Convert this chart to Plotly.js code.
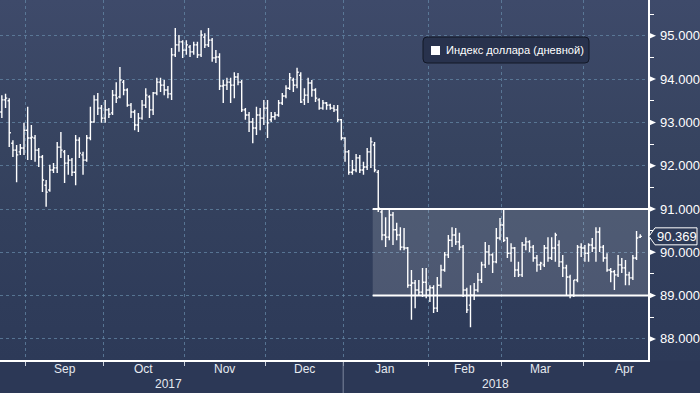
<!DOCTYPE html>
<html><head><meta charset="utf-8">
<script src="https://cdn.plot.ly/plotly-3.0.1.min.js"></script>
<style>
html,body{margin:0;padding:0;background:#2c3956;}
#wrap{position:relative;width:700px;height:393px;background:linear-gradient(to bottom,#3e4a6a 0px,#36435f 150px,#2f3c5a 300px,#2d3a58 360px,#2c3856 361px,#2c3856 393px);}
#chart{width:700px;height:393px;}
</style></head><body><div id="wrap"><div id="chart"></div></div>
<script>
// Daily US Dollar Index bars, one per weekday starting 2017-08-23
const firstDay = '2017-08-23';
const open = [
 93.24,93.52,93.50,92.52,92.36,92.32,92.41,
 92.82,92.64,92.64,92.36,92.20,91.55,91.44,91.90,91.95,92.43,92.32,92.06,92.13,91.85,92.59,92.25,92.13,92.64,93.01,93.52,93.33,
 93.10,93.29,93.22,93.63,93.59,93.93,93.75,93.40,93.24,92.94,93.10,93.40,93.59,93.29,93.68,93.93,93.86,93.75,93.66,94.56,94.79,94.86,
 94.67,94.74,94.63,94.79,94.56,94.97,94.79,94.90,94.49,94.51,93.84,93.86,93.93,93.86,94.05,93.93,93.29,93.17,93.01,92.87,93.17,93.10,
 93.33,93.06,93.13,93.17,93.45,93.61,93.79,93.98,93.86,94.09,93.52,93.63,93.91,93.75,93.52,93.33,93.45,93.40,93.33,93.29,93.06,
 92.64,92.32,91.85,91.90,92.18,91.90,91.97,92.32,92.48,91.85,90.93,90.40,90.35,90.86,90.52,90.40,90.12,90.10,89.24,89.29,89.13,89.08,89.31,
 89.13,89.18,88.71,89.24,89.59,89.94,90.28,90.40,90.24,90.12,89.13,88.78,89.01,89.13,89.36,89.71,90.01,89.94,89.78,90.33,
 90.63,90.33,89.98,90.10,89.59,89.48,90.17,90.24,90.12,89.87,89.71,89.71,90.10,89.87,90.10,90.17,89.78,89.64,89.43,89.01,89.36,90.12,
 90.10,89.98,90.17,90.10,90.47,90.12,89.87,89.59,89.55,89.48,89.71,89.64,89.48,89.41,89.87,90.35];
const high = [
 93.63,93.66,93.56,92.59,92.48,92.50,92.99,
 93.36,92.94,92.71,92.41,92.25,91.67,92.02,92.06,92.55,92.78,92.36,92.25,92.18,92.71,92.66,92.32,92.71,93.36,93.63,93.68,93.40,
 93.52,93.33,93.75,93.93,94.28,93.98,93.79,93.45,93.29,93.22,93.52,93.79,93.63,93.70,94.03,94.03,93.98,93.84,94.72,95.18,95.02,94.90,
 94.90,94.79,94.86,94.86,95.13,95.06,95.18,94.95,94.67,94.60,93.98,94.03,94.03,94.16,94.14,93.98,93.33,93.24,93.10,93.36,93.33,93.52,
 93.52,93.24,93.24,93.52,93.68,93.86,94.14,94.03,94.26,94.16,93.79,94.03,93.98,93.79,93.56,93.52,93.47,93.43,93.40,93.40,93.08,
 92.66,92.36,92.13,92.27,92.25,92.09,92.41,92.66,92.55,91.90,90.98,90.81,91.02,90.93,90.68,90.58,90.56,90.12,89.59,89.36,89.36,89.64,89.64,
 89.24,89.24,89.43,89.71,90.01,90.40,90.58,90.56,90.45,90.17,89.18,89.24,89.29,89.52,89.78,90.24,90.17,89.98,90.56,90.79,
 90.98,90.35,90.21,90.12,89.78,90.24,90.35,90.28,90.17,89.94,89.78,90.17,90.35,90.35,90.45,90.28,89.94,89.71,89.48,89.36,90.17,90.21,
 90.17,90.21,90.33,90.58,90.58,90.17,89.98,89.64,89.59,89.94,89.87,89.82,89.55,89.94,90.49,90.42];
const low = [
 93.10,93.33,92.43,92.20,91.62,92.25,92.25,
 92.13,92.13,92.09,91.97,91.39,91.05,91.40,91.83,91.83,92.18,91.60,91.79,91.76,91.55,92.18,91.79,92.09,92.59,92.99,93.17,92.99,
 92.99,93.10,93.17,93.45,93.56,93.63,93.36,93.10,92.82,92.78,93.06,93.33,93.10,93.17,93.63,93.70,93.63,93.56,93.52,94.51,94.63,94.49,
 94.56,94.51,94.56,94.49,94.51,94.72,94.74,94.40,94.37,93.75,93.45,93.75,93.45,93.56,93.86,93.24,93.06,92.78,92.52,92.71,92.82,92.94,
 92.64,93.01,93.06,93.13,93.40,93.56,93.75,93.70,93.79,93.45,93.40,93.45,93.59,93.47,93.29,93.29,93.29,93.29,93.24,93.01,92.59,
 92.09,91.79,91.79,91.85,91.83,91.79,91.90,91.95,91.85,90.93,90.28,90.12,90.28,90.17,90.28,90.05,90.05,89.18,88.44,88.71,89.01,88.97,88.94,
 88.85,88.60,88.62,89.18,89.55,89.87,90.12,90.17,90.05,88.97,88.60,88.27,88.90,89.08,89.29,89.64,89.71,89.52,89.75,90.28,
 90.24,89.87,89.78,89.43,89.43,89.43,90.05,90.01,89.78,89.55,89.59,89.66,89.78,89.82,89.78,89.66,89.43,89.01,88.94,88.97,89.31,89.89,
 89.78,89.78,90.01,89.78,90.01,89.78,89.55,89.31,89.13,89.43,89.52,89.24,89.24,89.36,89.82,90.33];
const close = [
 93.52,93.56,92.76,92.36,92.25,92.41,92.82,
 92.64,92.66,92.36,92.20,91.67,91.39,91.90,91.95,92.43,92.36,92.06,92.13,91.85,92.59,92.29,92.13,92.64,93.01,93.52,93.33,93.10,
 93.29,93.19,93.63,93.56,93.98,93.75,93.40,93.24,92.94,93.10,93.40,93.63,93.29,93.68,93.93,93.86,93.75,93.66,94.56,94.79,94.86,94.67,
 94.79,94.63,94.79,94.56,95.02,94.79,94.90,94.49,94.51,93.84,93.86,93.93,93.86,94.05,93.93,93.29,93.17,93.01,92.87,93.17,93.10,93.33,
 92.99,93.13,93.17,93.45,93.61,93.79,94.03,93.86,94.16,93.47,93.63,93.91,93.75,93.56,93.33,93.45,93.40,93.33,93.29,93.06,92.64,
 92.32,91.85,91.90,92.18,91.90,91.97,92.32,92.55,91.90,91.02,90.40,90.35,90.86,90.52,90.40,90.12,90.10,89.24,89.29,89.13,89.08,89.31,89.13,
 89.18,88.71,89.24,89.59,89.94,90.28,90.40,90.24,90.12,89.13,88.67,89.01,89.13,89.36,89.71,90.01,89.94,89.78,90.33,90.63,
 90.28,89.98,90.10,89.59,89.48,90.17,90.24,90.12,89.87,89.71,89.75,90.10,89.87,90.10,90.40,89.78,89.64,89.43,89.01,89.36,90.12,90.10,
 89.98,90.17,90.10,90.47,90.12,89.87,89.59,89.55,89.48,89.71,89.64,89.48,89.41,89.87,90.33,90.369];

const monthStarts = ['2017-09-01','2017-10-02','2017-11-01','2017-12-01','2018-01-01','2018-02-01','2018-03-01','2018-04-02'];
const monthLabels = ['Sep','Oct','Nov','Dec','Jan','Feb','Mar','Apr'];
const monthLabelAt = ['2017-09-15 12:00','2017-10-17 00:00','2017-11-15 18:00','2017-12-15 10:00','2018-01-16 06:00','2018-02-15 00:00','2018-03-15 14:00','2018-04-17 06:00'];
const yearLabels = ['2017','2018'];
const yearLabelAt = ['2017-10-25 14:00','2018-02-27 06:00'];
const yearBreak = '2018-01-01';
const yTicks = [88,89,90,91,92,93,94,95];
const channel = {x0:'2018-01-11', lo:89, hi:91};
const seriesName = 'Индекс доллара (дневной)';
const xRange = ['2017-08-23 00:00','2018-04-25 14:30'];
const yRange = [87.513, 95.827];

// weekday calendar for the bars
const dates = [];
{
  let t = Date.UTC(2017,7,23,12);
  while (dates.length < close.length) {
    const d = new Date(t); const wd = d.getUTCDay();
    if (wd !== 0 && wd !== 6) dates.push(d.toISOString().slice(0,10) + ' 12:00');
    t += 86400000;
  }
}

const font = 'Liberation Sans, Arial, sans-serif';
const gridCol = 'rgba(100,135,165,0.75)';

const trace = {
  type:'ohlc', x:dates, open:open, high:high, low:low, close:close,
  increasing:{line:{color:'#ffffff', width:1.4}},
  decreasing:{line:{color:'#ffffff', width:1.4}},
  tickwidth:0.45, hoverinfo:'skip', showlegend:false
};

const last = close[close.length-1];
const shapes = [
  {type:'rect', xref:'x', yref:'y', x0:channel.x0, x1:xRange[1], y0:channel.lo, y1:channel.hi,
   fillcolor:'rgba(255,255,255,0.14)', line:{width:0}, layer:'between'},
  {type:'line', xref:'x', yref:'y', x0:channel.x0, x1:xRange[1], y0:channel.hi, y1:channel.hi, line:{color:'#ffffff', width:2}},
  {type:'line', xref:'x', yref:'y', x0:channel.x0, x1:xRange[1], y0:channel.lo, y1:channel.lo, line:{color:'#ffffff', width:2}},
  {type:'line', xref:'x', yref:'paper', x0:yearBreak, x1:yearBreak, y0:-0.006, y1:-0.095, line:{color:'#7d879e', width:1}},
  // legend box
  {type:'path', xref:'paper', xsizemode:'pixel', xanchor:0, yref:'paper', ysizemode:'pixel', yanchor:1,
   path:'M427,-37 L585,-37 Q589,-37 589,-41 L589,-59 Q589,-63 585,-63 L427,-63 Q423,-63 423,-59 L423,-41 Q423,-37 427,-37 Z',
   fillcolor:'#28324d', line:{color:'#121827', width:1}},
  {type:'rect', xref:'paper', xsizemode:'pixel', xanchor:0, yref:'paper', ysizemode:'pixel', yanchor:1,
   x0:431, x1:440, y0:-46, y1:-55, fillcolor:'#ffffff', line:{width:0}},
  // last price tag
  {type:'path', xref:'paper', xsizemode:'pixel', xanchor:1, yref:'y', ysizemode:'pixel', yanchor:last,
   path:'M1,0 L7,8.5 L49,8.5 L49,-8.5 L7,-8.5 Z', fillcolor:'#2d3a57', line:{color:'#ffffff', width:1}}
];
yTicks.forEach(v => shapes.push({type:'path', xref:'paper', xsizemode:'pixel', xanchor:1, yref:'y', ysizemode:'pixel', yanchor:v,
  path:'M0,3.5 L8,0 L0,-3.5 Z', fillcolor:'#ffffff', line:{width:0}}));

const annotations = [
  {xref:'paper', x:444/648, yref:'paper', y:1-50/360, xanchor:'left', yanchor:'middle', showarrow:false,
   text:seriesName, font:{family:font, size:11.1, color:'#ffffff'}},
  {xref:'paper', x:1, xshift:7, yref:'y', y:last, xanchor:'left', yanchor:'middle', showarrow:false,
   text:last.toFixed(3), font:{family:font, size:13, color:'#ffffff'}}
];
monthLabels.forEach((m,i) => annotations.push({xref:'x', x:monthLabelAt[i], yref:'paper', y:-9/360, xanchor:'center', yanchor:'middle',
  showarrow:false, text:m, font:{family:font, size:12, color:'#e6eaf0'}}));
yearLabels.forEach((m,i) => annotations.push({xref:'x', x:yearLabelAt[i], yref:'paper', y:-24/360, xanchor:'center', yanchor:'middle',
  showarrow:false, text:m, font:{family:font, size:12, color:'#e6eaf0'}}));

const layout = {
  width:700, height:393, margin:{l:0, r:52, t:0, b:33},
  paper_bgcolor:'rgba(0,0,0,0)', plot_bgcolor:'rgba(0,0,0,0)',
  showlegend:false, hovermode:false,
  xaxis:{type:'date', range:xRange, rangebreaks:[{bounds:['sat','mon']}], rangeslider:{visible:false},
    tickmode:'array', tickvals:monthStarts, showticklabels:false, ticks:'outside', ticklen:4, tickcolor:'#c9d0dc', tickwidth:1,
    showgrid:true, gridcolor:gridCol, griddash:'3px,3px', gridwidth:1,
    showline:true, linecolor:'#ffffff', linewidth:1.5, zeroline:false, fixedrange:true},
  yaxis:{side:'right', range:yRange, tick0:88, dtick:1, tickformat:'.3f', ticks:'', ticklabelstandoff:8,
    tickfont:{family:font, size:13, color:'#ffffff'},
    minor:{dtick:0.5, ticks:'outside', ticklen:4, tickcolor:'#ffffff', tickwidth:1, showgrid:false},
    showgrid:true, gridcolor:gridCol, griddash:'3px,3px', gridwidth:1,
    showline:true, linecolor:'#ffffff', linewidth:1.5, zeroline:false, fixedrange:true},
  shapes:shapes, annotations:annotations
};
Plotly.newPlot('chart', [trace], layout, {staticPlot:true, displayModeBar:false});
</script></body></html>
